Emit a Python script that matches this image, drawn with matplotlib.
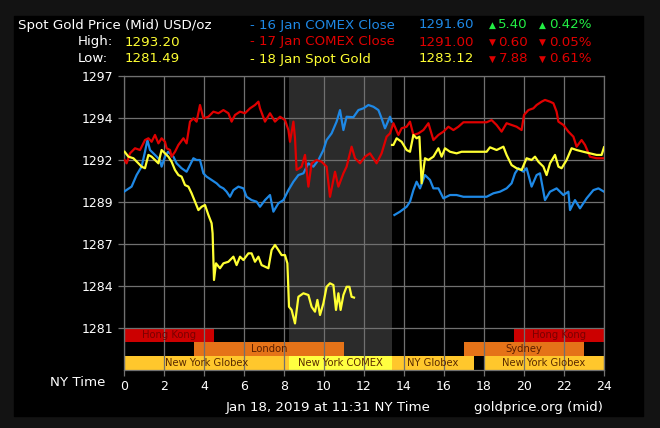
import numpy as np
import matplotlib.pyplot as plt
from matplotlib.patches import Rectangle

# 16 Jan COMEX close (blue), hours NY time / USD per oz
blue_t = [0, 0.38, 0.63, 0.88, 1.05, 1.17, 1.3, 1.55, 1.8, 1.88, 2.05, 2.2, 2.47, 2.63, 2.88,
          3.13, 3.3, 3.47, 3.63, 3.8, 3.97, 4.13, 4.38, 4.63, 4.8, 4.97, 5.13, 5.3, 5.47, 5.72,
          5.97, 6.13, 6.38, 6.63, 6.8, 7.05, 7.3, 7.47, 7.72, 7.97, 8.22, 8.47, 8.72, 8.97, 9.22,
          9.47, 9.72, 9.97, 10.13, 10.38, 10.63, 10.8, 10.97, 11.13, 11.47, 11.72, 11.97, 12.22,
          12.47, 12.72, 12.88, 13.05, 13.3, 13.38, 13.45,
          13.52, 13.8, 14.13, 14.3, 14.47, 14.63, 14.8, 15.05, 15.3, 15.47, 15.72, 15.97, 16.3,
          16.63, 16.97, 18.13, 18.47, 18.8, 19.13, 19.38, 19.55, 19.72, 19.97, 20.13, 20.38,
          20.63, 20.8, 21.05, 21.3, 21.63, 21.97, 22.22, 22.3, 22.55, 22.8, 23.13, 23.47, 23.72, 24]
blue_p = [1289.80, 1290.12, 1290.85, 1291.38, 1292.32, 1293.06, 1292.43, 1292.12, 1291.80, 1291.38,
          1292.01, 1292.32, 1292.01, 1291.59, 1291.28, 1291.06, 1291.48, 1291.91, 1291.80, 1291.80,
          1290.96, 1290.75, 1290.54, 1290.33, 1290.12, 1290.01, 1289.80, 1289.48, 1289.90, 1290.12,
          1290.01, 1289.48, 1289.27, 1289.17, 1288.85, 1289.27, 1289.59, 1288.54, 1289.07, 1289.27,
          1289.90, 1290.43, 1290.85, 1290.96, 1291.59, 1291.38, 1291.80, 1292.43, 1293.06, 1293.48,
          1294.22, 1294.95, 1293.69, 1294.53, 1294.50, 1294.95, 1295.06, 1295.27, 1295.16, 1294.95,
          1294.43, 1293.80, 1294.53, 1294.22, np.nan,
          1288.33, 1288.54, 1288.85, 1289.17, 1289.90, 1290.43, 1290.01, 1290.85, 1290.54, 1290.01,
          1290.01, 1289.38, 1289.59, 1289.59, 1289.48, 1289.48, 1289.70, 1289.80, 1290.01, 1290.33,
          1290.96, 1291.28, 1291.06, 1291.28, 1290.12, 1290.85, 1290.96, 1289.27, 1289.80, 1290.01,
          1289.59, 1289.80, 1288.64, 1289.27, 1288.75, 1289.38, 1289.90, 1290.01, 1289.80]

# 17 Jan COMEX close (red)
red_t = [0.03, 0.13, 0.3, 0.55, 0.8, 1.05, 1.22, 1.38, 1.55, 1.72, 1.88, 2.05, 2.13, 2.3, 2.38,
         2.55, 2.72, 2.97, 3.13, 3.3, 3.47, 3.63, 3.8, 3.97, 4.22, 4.47, 4.72, 4.97, 5.22, 5.38,
         5.55, 5.8, 6.05, 6.3, 6.55, 6.72, 6.8, 7.05, 7.3, 7.55, 7.8, 8.05, 8.22, 8.3, 8.47, 8.55,
         8.63, 8.88, 9.05, 9.22, 9.38, 9.63, 9.88, 10.13, 10.3, 10.55, 10.72, 10.97, 11.13, 11.38,
         11.55, 11.8, 12.05, 12.3, 12.63, 12.88, 13.13, 13.3, 13.47, 13.72, 13.88, 14.13, 14.3,
         14.47, 14.72, 14.97, 15.22, 15.47, 15.72, 15.97, 16.22, 16.47, 16.72, 16.97, 18.13, 18.38,
         18.63, 18.88, 19.13, 19.38, 19.63, 19.88, 20.0, 20.22, 20.47, 20.63, 20.88, 21.05, 21.3,
         21.47, 21.63, 21.72, 21.97, 22.22, 22.47, 22.63, 22.88, 23.05, 23.3, 23.63, 23.97]
red_p = [1291.80, 1291.59, 1292.22, 1292.54, 1292.43, 1293.06, 1293.17, 1292.95, 1293.38, 1292.85,
         1293.17, 1292.95, 1292.54, 1292.43, 1292.01, 1292.32, 1292.75, 1293.17, 1292.85, 1294.22,
         1294.43, 1294.22, 1295.27, 1294.43, 1294.53, 1294.85, 1294.75, 1294.95, 1294.75, 1294.22,
         1294.64, 1294.85, 1294.75, 1295.06, 1295.27, 1295.48, 1295.06, 1294.22, 1294.75, 1294.22,
         1294.53, 1294.32, 1293.69, 1292.95, 1294.22, 1293.17, 1291.17, 1291.38, 1292.12, 1290.12,
         1291.59, 1291.80, 1291.69, 1291.38, 1289.48, 1291.06, 1290.12, 1290.96, 1291.38, 1292.64,
         1291.91, 1291.59, 1292.01, 1292.22, 1291.59, 1292.22, 1293.27, 1293.48, 1294.12, 1293.38,
         1293.80, 1293.90, 1294.22, 1293.38, 1293.48, 1293.69, 1294.12, 1293.06, 1293.38, 1293.59,
         1293.90, 1293.69, 1293.90, 1294.18, 1294.18, 1294.32, 1294.01, 1293.59, 1294.12, 1294.01,
         1293.90, 1293.69, 1294.64, 1294.95, 1295.06, 1295.27, 1295.48, 1295.59, 1295.48, 1295.38,
         1294.85, 1294.22, 1294.01, 1293.59, 1293.27, 1292.64, 1293.06, 1292.75, 1292.01, 1291.91,
         1291.91]

# 18 Jan spot gold (yellow)
yel_t = [0.03, 0.22, 0.47, 0.72, 0.88, 1.05, 1.22, 1.38, 1.55, 1.72, 1.88, 2.05, 2.22, 2.38, 2.55,
         2.72, 2.88, 3.05, 3.22, 3.38, 3.55, 3.72, 3.88, 4.05, 4.22, 4.38, 4.43, 4.5, 4.6, 4.8,
         4.97, 5.22, 5.47, 5.63, 5.8, 5.97, 6.22, 6.38, 6.55, 6.72, 6.88, 7.05, 7.22, 7.38, 7.55,
         7.72, 7.88, 8.05, 8.17, 8.25, 8.38, 8.55, 8.72, 8.97, 9.22, 9.38, 9.55, 9.67, 9.8, 9.97,
         10.13, 10.3, 10.47, 10.6, 10.72, 10.83, 10.97, 11.13, 11.27, 11.38, 11.5, 12.4,
         13.4, 13.47, 13.63, 13.88, 14.13, 14.3, 14.47, 14.63, 14.77, 14.88, 15.05, 15.22, 15.47,
         15.72, 15.88, 16.05, 16.3, 16.63, 16.88, 18.13, 18.3, 18.63, 18.97, 19.13, 19.38, 19.63,
         19.88, 20.13, 20.38, 20.55, 20.72, 20.97, 21.13, 21.3, 21.55, 21.72, 21.88, 22.13, 22.38,
         22.63, 22.97, 23.3, 23.63, 23.88, 24]
yel_p = [1292.32, 1292.01, 1291.91, 1291.59, 1291.38, 1291.28, 1292.12, 1292.01, 1291.80, 1291.59,
         1292.43, 1292.22, 1292.01, 1291.69, 1291.17, 1290.85, 1290.75, 1290.22, 1290.12, 1289.70,
         1289.17, 1288.64, 1288.85, 1288.96, 1288.33, 1287.81, 1287.17, 1284.23, 1285.28, 1284.97,
         1285.28, 1285.38, 1285.70, 1285.17, 1285.70, 1285.49, 1285.91, 1285.91, 1285.38, 1285.70,
         1285.17, 1285.07, 1284.97, 1286.12, 1286.44, 1286.12, 1285.80, 1285.80, 1285.28, 1282.54,
         1282.34, 1281.49, 1283.17, 1283.39, 1283.28, 1282.54, 1282.23, 1282.97, 1282.02, 1282.76,
         1283.80, 1284.02, 1283.91, 1282.34, 1283.39, 1282.34, 1283.28, 1283.80, 1283.80, 1283.17,
         1283.12, np.nan,
         1292.75, 1292.75, 1293.17, 1292.95, 1292.43, 1292.32, 1293.38, 1293.17, 1293.27, 1290.33,
         1291.91, 1291.80, 1292.01, 1292.54, 1292.01, 1292.54, 1292.32, 1292.22, 1292.32, 1292.32,
         1292.60, 1292.43, 1292.64, 1292.12, 1291.48, 1291.28, 1291.17, 1291.91, 1291.80, 1292.01,
         1291.69, 1291.38, 1290.85, 1291.59, 1292.12, 1291.38, 1291.28, 1291.80, 1292.54, 1292.43,
         1292.32, 1292.22, 1292.12, 1292.12, 1292.60]

# y axis ticks (labels are rounded prices)
ytick_vals = [1281.2, 1283.85, 1286.5, 1289.15, 1291.8, 1294.45, 1297.1]
ytick_labels = ["1281", "1284", "1287", "1289", "1292", "1294", "1297"]
xtick_vals = list(range(0, 25, 2))

# trading sessions (hours), three rows
sess_names = [["Hong Kong", "Hong Kong"], ["London", "Sydney"],
              ["New York Globex", "New York COMEX", "NY Globex", "New York Globex"]]
sess_start = [[0, 19.5], [3.5, 17], [0, 8.25, 13.4, 18]]
sess_end = [[4.5, 24], [11, 23], [8.25, 13.4, 17.5, 24]]
comex_open, comex_close = 8.25, 13.4

# header stats
high_low = ["1293.20", "1281.49"]
ref_labels = ["16 Jan COMEX Close", "17 Jan COMEX Close", "18 Jan Spot Gold"]
ref_prices = ["1291.60", "1291.00", "1283.12"]
ref_change = ["5.40", "0.60", "7.88"]
ref_pct = ["0.42%", "0.05%", "0.61%"]
ref_up = [True, False, False]

BLUE, RED, YEL = '#1e88e5', '#e00000', '#ffff33'
GREEN, GRID = '#22ee44', '#707070'

W, H = 660, 428
fig = plt.figure(figsize=(W / 100, H / 100), dpi=100, facecolor='#131313')
fig.patches.append(Rectangle((14 / W, 12 / H), 629 / W, 400 / H, transform=fig.transFigure,
                             color='black', zorder=-5))

def put(x, y, s, **kw):
    kw.setdefault('va', 'center')
    fig.text(x / W, 1 - y / H, s, **kw)

ax = fig.add_axes([124 / W, 58 / H, 480 / W, 294 / H])
ax.set_facecolor('black')
step = ytick_vals[1] - ytick_vals[0]
ymin = ytick_vals[0] - step
ax.set_xlim(0, 24)
ax.set_ylim(ymin, ytick_vals[-1])

# session bars
row_h = step / 3
bar_colors = [['#cc0000', '#cc0000'], ['#e57318', '#e57318'],
              ['#ffc72c', '#ffff40', '#ffc72c', '#ffc72c']]
text_colors = ['#7a0000', '#5a1e00', '#5a2a00']
for r in range(3):
    y0 = ytick_vals[0] - (r + 1) * row_h
    for name, s, e, c in zip(sess_names[r], sess_start[r], sess_end[r], bar_colors[r]):
        ax.add_patch(Rectangle((s, y0), e - s, row_h, color=c, zorder=1, lw=0))
        ax.text((s + e) / 2, y0 + row_h / 2, name, ha='center', va='center',
                fontsize=7.2, color=text_colors[r], zorder=4)

# COMEX shade
ax.add_patch(Rectangle((comex_open, ytick_vals[0] - 2 * row_h), comex_close - comex_open,
                       ytick_vals[-1] - ytick_vals[0] + 2 * row_h, color='#2b2b2b', zorder=0.5, lw=0))

for v in ytick_vals:
    ax.axhline(v, color=GRID, lw=0.9, zorder=2)
for v in xtick_vals:
    ax.axvline(v, color=GRID, lw=0.9, zorder=2)

ax.plot(blue_t, blue_p, color=BLUE, lw=1.6, zorder=3)
ax.plot(red_t, red_p, color=RED, lw=1.6, zorder=3)
ax.plot(yel_t, yel_p, color=YEL, lw=1.6, zorder=3)

for sp in ax.spines.values():
    sp.set_color(GRID)
    sp.set_linewidth(0.9)
ax.set_yticks(ytick_vals)
ax.set_yticklabels(ytick_labels)
ax.set_xticks(xtick_vals)
ax.set_xticklabels([str(v) for v in xtick_vals])
ax.tick_params(colors=GRID, labelcolor='white', labelsize=9, length=4, width=0.9)

# header
put(18, 25, "Spot Gold Price (Mid) USD/oz", color='white', fontsize=9.6)
put(78, 42, "High:", color='white', fontsize=9.6)
put(125, 42, high_low[0], color=YEL, fontsize=9.6)
put(78, 59, "Low:", color='white', fontsize=9.6)
put(125, 59, high_low[1], color=YEL, fontsize=9.6)
for i, (lab, col) in enumerate(zip(ref_labels, [BLUE, RED, YEL])):
    y = 25 + 17 * i
    put(250, y, "- " + lab, color=col, fontsize=9.6)
    put(474, y, ref_prices[i], color=col, fontsize=9.6, ha='right')
    c = GREEN if ref_up[i] else RED
    tri = '\u25b2' if ref_up[i] else '\u25bc'
    put(489, y, tri, color=c, fontsize=6.5)
    put(528, y, ref_change[i], color=c, fontsize=9.6, ha='right')
    put(539, y, tri, color=c, fontsize=6.5)
    put(592, y, ref_pct[i], color=c, fontsize=9.6, ha='right')

# footer
put(105, 382, "NY Time", color='white', fontsize=9.6, ha='right')
put(328, 408, "Jan 18, 2019 at 11:31 NY Time", color='white', fontsize=9.6, ha='center')
put(603, 408, "goldprice.org (mid)", color='white', fontsize=9.6, ha='right')

fig.savefig('out.png', dpi=100, facecolor=fig.get_facecolor())
